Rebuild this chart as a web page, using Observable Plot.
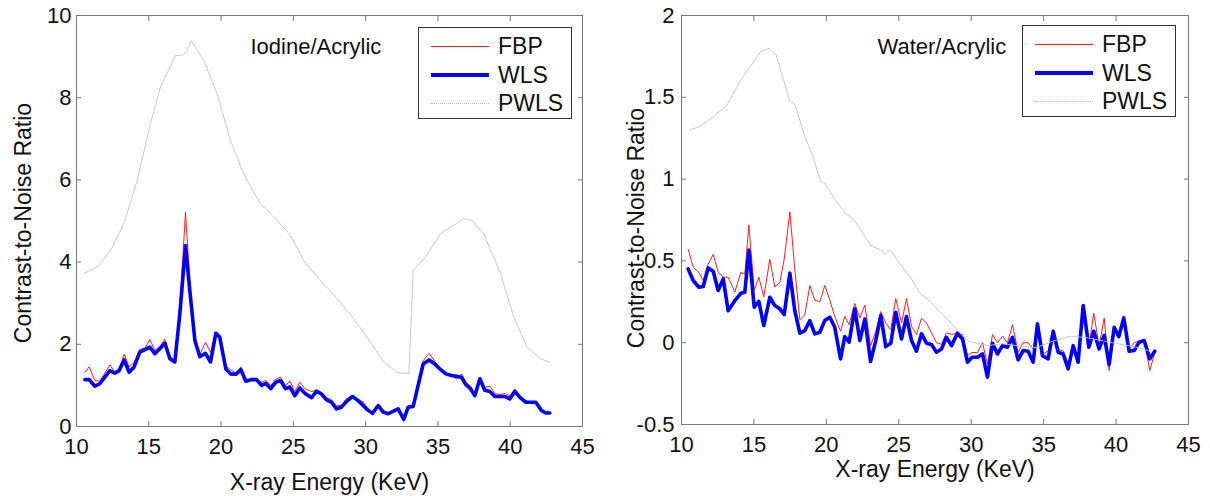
<!DOCTYPE html>
<html><head><meta charset="utf-8">
<script src="https://cdn.jsdelivr.net/npm/d3@7"></script>
<script src="https://cdn.jsdelivr.net/npm/@observablehq/plot@0.6"></script>
<style>
body{margin:0;background:#fff;font-family:"Liberation Sans",Arial,sans-serif;}
#wrap{position:relative;width:1210px;height:496px;display:flex;overflow:hidden;}
.legend{position:absolute;border:1px solid #333;background:#fff;width:154px;height:92px;box-sizing:border-box;}
.legend .row{position:absolute;left:0;width:100%;height:28px;}
.legend .ln{position:absolute;left:12px;width:58px;top:14px;height:0;}
.legend .tx{position:absolute;left:79px;top:0;line-height:28px;font-size:23px;color:#111;}
</style></head>
<body><div id="wrap"></div>
<script>
// ---------- data ----------
const xTicks = [10, 15, 20, 25, 30, 35, 40, 45];
const seriesNames = ["FBP", "WLS", "PWLS"];

// Left panel: Iodine/Acrylic
const leftX = [10.58,10.88,11.27,11.61,11.96,12.31,12.65,12.95,13.30,13.64,
13.97,14.38,14.73,15.07,15.42,15.76,16.11,16.46,16.80,17.15,
17.54,17.84,18.19,18.53,18.92,19.27,19.64,19.91,20.33,20.65,
21.02,21.37,21.71,22.10,22.45,22.80,23.10,23.44,23.79,24.11,
24.46,24.76,25.10,25.45,25.79,26.26,26.60,26.95,27.29,27.64,
27.98,28.33,28.68,29.09,29.48,29.83,30.11,30.47,30.87,31.21,
31.56,31.90,32.25,32.64,32.94,33.29,33.63,33.98,34.39,34.79,
35.13,35.55,35.94,36.29,36.63,36.93,37.25,37.55,37.90,38.24,
38.59,38.94,39.28,39.63,39.97,40.32,40.67,41.08,41.40,41.77,
42.16,42.46,42.74];
const leftFBP = [1.32,1.45,1.12,1.10,1.30,1.50,1.32,1.40,1.76,1.45,
1.55,1.88,1.90,2.12,1.85,1.95,2.12,1.70,1.60,2.90,
5.22,3.50,2.20,1.75,2.05,1.80,2.27,2.20,1.48,1.38,
1.30,1.45,1.15,1.15,1.15,1.08,1.12,1.00,1.15,1.20,
1.00,1.10,0.85,1.08,0.92,0.85,0.88,0.82,0.70,0.65,
0.50,0.52,0.68,0.72,0.65,0.60,0.45,0.35,0.50,0.40,
0.32,0.40,0.45,0.20,0.50,0.52,1.05,1.60,1.78,1.58,
1.42,1.30,1.26,1.15,1.28,1.08,0.98,0.78,1.10,0.95,
0.98,0.80,0.78,0.80,0.75,0.90,0.72,0.62,0.60,0.60,
0.40,0.35,0.35];
const leftWLS = [1.14,1.14,0.98,1.04,1.20,1.36,1.30,1.36,1.62,1.32,
1.44,1.81,1.87,1.93,1.77,1.89,2.03,1.65,1.57,2.75,
4.40,3.30,2.09,1.70,1.78,1.57,2.27,2.17,1.40,1.28,
1.27,1.38,1.10,1.14,1.14,1.00,1.05,0.92,1.08,1.12,
0.92,0.96,0.75,0.94,0.81,0.70,0.86,0.79,0.65,0.59,
0.43,0.47,0.61,0.73,0.63,0.51,0.41,0.32,0.51,0.35,
0.31,0.37,0.43,0.17,0.47,0.49,1.00,1.52,1.62,1.52,
1.40,1.28,1.24,1.22,1.20,1.02,0.92,0.75,1.16,0.88,
0.85,0.73,0.73,0.73,0.67,0.86,0.71,0.59,0.59,0.59,
0.39,0.33,0.33];
const leftPWLSx = [10.5,11.43,12.35,13.27,14.2,15.12,15.81,16.85,17.31,17.61,17.93,18.81,19.73,20.65,21.46,22.26,22.73,23.88,24.80,25.72,26.88,28.03,29.18,30.34,31.26,32.18,32.99,33.29,34.14,35.18,35.87,36.79,37.37,38.17,39.33,40.25,41.17,42.1,42.79];
const leftPWLS = [3.72,3.88,4.28,4.93,5.99,7.37,8.26,9.03,9.03,9.11,9.39,8.90,8.09,6.96,6.23,5.70,5.42,5.01,4.65,4.04,3.55,3.11,2.62,2.05,1.56,1.32,1.28,3.80,4.12,4.69,4.85,5.05,5.01,4.69,3.72,2.66,1.93,1.65,1.56];
const leftYTicks = [0, 2, 4, 6, 8, 10];

// Right panel: Water/Acrylic
const rightX = [10.46,10.81,11.20,11.50,11.84,12.19,12.53,12.88,13.22,13.68,
14.10,14.37,14.65,15.02,15.34,15.68,16.10,16.44,16.79,17.09,
17.48,17.82,18.17,18.51,18.86,19.20,19.55,19.89,20.24,20.58,
20.98,21.27,21.57,21.96,22.31,22.66,23.05,23.41,23.76,24.10,
24.45,24.79,25.19,25.53,25.88,26.22,26.57,26.91,27.26,27.60,
27.95,28.29,28.64,29.05,29.40,29.74,30.06,30.43,30.78,31.12,
31.47,31.81,32.16,32.50,32.85,33.24,33.58,33.93,34.28,34.57,
34.92,35.31,35.66,36.00,36.35,36.69,37.04,37.38,37.73,38.12,
38.46,38.83,39.18,39.52,39.87,40.19,40.53,40.90,41.25,41.59,
41.94,42.33,42.67];
const rightFBP = [0.57,0.46,0.43,0.38,0.48,0.54,0.43,0.40,0.40,0.31,
0.43,0.42,0.72,0.32,0.40,0.28,0.51,0.34,0.37,0.51,
0.80,0.45,0.14,0.17,0.35,0.26,0.25,0.35,0.26,0.16,
0.07,0.16,0.11,0.24,0.15,0.23,-0.02,0.07,0.19,0.12,
0.08,0.27,0.12,0.27,0.10,0.05,0.15,0.12,0.06,0.00,
-0.01,0.06,0.05,0.06,0.05,-0.08,-0.06,-0.06,0.00,-0.13,
0.05,0.00,0.04,0.00,0.11,-0.06,0.00,0.00,-0.04,0.11,
-0.07,-0.05,0.07,-0.04,-0.05,-0.13,-0.01,-0.10,0.22,-0.03,
0.18,-0.02,0.15,-0.17,0.09,0.04,0.15,-0.04,0.00,0.01,
0.01,-0.17,-0.06];
const rightWLS = [0.451,0.380,0.339,0.343,0.457,0.437,0.319,0.390,0.196,0.257,
0.302,0.308,0.567,0.217,0.253,0.105,0.278,0.227,0.207,0.172,
0.425,0.196,0.058,0.074,0.135,0.054,0.064,0.135,0.156,0.094,
-0.099,0.037,0.003,0.207,0.013,0.145,-0.115,0.013,0.166,-0.024,
-0.003,0.186,0.023,0.160,0.013,-0.052,0.054,-0.003,-0.011,-0.058,
-0.038,0.033,-0.018,0.058,0.023,-0.119,-0.089,-0.089,-0.069,-0.211,
-0.003,-0.069,-0.018,-0.028,0.033,-0.105,-0.048,-0.052,-0.119,0.115,
-0.079,-0.099,0.070,-0.058,-0.069,-0.160,-0.018,-0.119,0.227,-0.028,
0.070,-0.038,0.044,-0.134,0.094,0.037,0.152,-0.052,-0.048,0.003,
0.013,-0.099,-0.052];
const rightPWLSx = [10.54,11.24,12.18,13.12,14.06,14.77,15.47,16.06,16.53,17.0,17.46,17.82,18.52,19.11,19.58,19.93,20.63,21.34,21.92,22.51,23.10,23.69,24.04,24.39,25.09,25.80,26.50,27.21,27.91,28.62,29.32,29.79,30.49,31.20,32.14,33.31,34.48,35.66,36.83,38.0,39.18,40.35,41.53,42.23];
const rightPWLS = [1.30,1.32,1.38,1.45,1.60,1.69,1.78,1.80,1.76,1.62,1.48,1.46,1.26,1.13,0.99,0.97,0.87,0.79,0.75,0.67,0.59,0.57,0.54,0.57,0.48,0.40,0.30,0.25,0.18,0.12,0.05,0.01,-0.006,-0.017,-0.006,-0.02,-0.03,0.01,0.04,0.03,0.01,-0.01,-0.03,-0.05];
const rightYTicks = [-0.5, 0, 0.5, 1, 1.5, 2];

// ---------- drawing ----------
const FONT = "'Liberation Sans', Arial, sans-serif";
const colors = {FBP: "#ff1a1a", WLS: "#0000ff", PWLS: "#c4c4c4"};

function panel(o) {
  const fbp = o.xs.map((x, i) => ({x, y: o.fbp[i]}));
  const wls = o.xs.map((x, i) => ({x, y: o.wls[i]}));
  const pw = o.px.map((x, i) => ({x, y: o.pwls[i]}));
  const fmt = d => `${d}`;
  return Plot.plot({
    width: 605, height: 496,
    marginLeft: 76, marginRight: o.mr, marginTop: 15, marginBottom: o.mb,
    style: {fontFamily: FONT, fontSize: "22px", color: "#111", background: "#fff", overflow: "visible"},
    x: {domain: [10, 45]},
    y: {domain: o.yDomain},
    marks: [
      Plot.line(fbp, {x: "x", y: "y", stroke: colors.FBP, strokeWidth: 1}),
      Plot.line(wls, {x: "x", y: "y", stroke: colors.WLS, strokeWidth: 3.6, strokeLinejoin: "round"}),
      Plot.line(pw, {x: "x", y: "y", stroke: colors.PWLS, strokeWidth: 1, strokeDasharray: "2,1"}),
      Plot.frame({stroke: "#777", strokeWidth: 1}),
      Plot.axisX({anchor: "bottom", ticks: xTicks, tickSize: -5, tickPadding: 17, stroke: "#777", fill: "#111", fontSize: 22, label: null, tickFormat: fmt}),
      Plot.axisX({anchor: "top", ticks: xTicks, tickSize: -5, stroke: "#777", label: null, tickFormat: () => ""}),
      Plot.axisY({anchor: "left", ticks: o.yTicks, tickSize: -5, tickPadding: o.ytp, stroke: "#777", fill: "#111", fontSize: 22, label: null, tickFormat: fmt}),
      Plot.axisY({anchor: "right", ticks: o.yTicks, tickSize: -5, stroke: "#777", label: null, tickFormat: () => ""}),
      Plot.text([o.note], {frameAnchor: "top-left", dx: o.noteDx, dy: 38, textAnchor: "start", lineAnchor: "bottom", fontSize: 22, fill: "#111"}),
      Plot.text(["Contrast-to-Noise Ratio"], {frameAnchor: "left", dx: o.ylDx, dy: o.ylDy, rotate: -90, textAnchor: "middle", lineAnchor: "middle", fontSize: 23, fill: "#111"}),
      Plot.text(["X-ray Energy (KeV)"], {frameAnchor: "bottom", dy: o.xlDy, textAnchor: "middle", lineAnchor: "middle", fontSize: 23, fill: "#111"})
    ]
  });
}

function legend(left, top) {
  const lg = document.createElement("div");
  lg.className = "legend";
  lg.style.left = left + "px";
  lg.style.top = top + "px";
  const styles = {
    FBP: `border-top:1px solid ${colors.FBP};`,
    WLS: `border-top:4px solid ${colors.WLS};margin-top:-2px;`,
    PWLS: `border-top:1px dotted #b8b8b8;`
  };
  seriesNames.forEach((n, i) => {
    const r = document.createElement("div");
    r.className = "row";
    r.style.top = (4 + i * 28.5) + "px";
    r.innerHTML = `<div class="ln" style="${styles[n]}"></div><div class="tx">${n}</div>`;
    lg.appendChild(r);
  });
  return lg;
}

const wrap = document.getElementById("wrap");
wrap.appendChild(panel({xs: leftX, fbp: leftFBP, wls: leftWLS, px: leftPWLSx, pwls: leftPWLS,
  yDomain: [0, 10], yTicks: leftYTicks, mr: 23, mb: 70, ytp: 10, note: "Iodine/Acrylic", noteDx: 174,
  ylDx: -53, ylDy: 2, xlDy: 56}));
wrap.appendChild(panel({xs: rightX, fbp: rightFBP, wls: rightWLS, px: rightPWLSx, pwls: rightPWLS,
  yDomain: [-0.5, 2], yTicks: rightYTicks, mr: 22, mb: 72, ytp: 12, note: "Water/Acrylic", noteDx: 196,
  ylDx: -45, ylDy: 8, xlDy: 45}));
wrap.appendChild(legend(418, 27));
wrap.appendChild(legend(1022, 25));
</script>
</body></html>
